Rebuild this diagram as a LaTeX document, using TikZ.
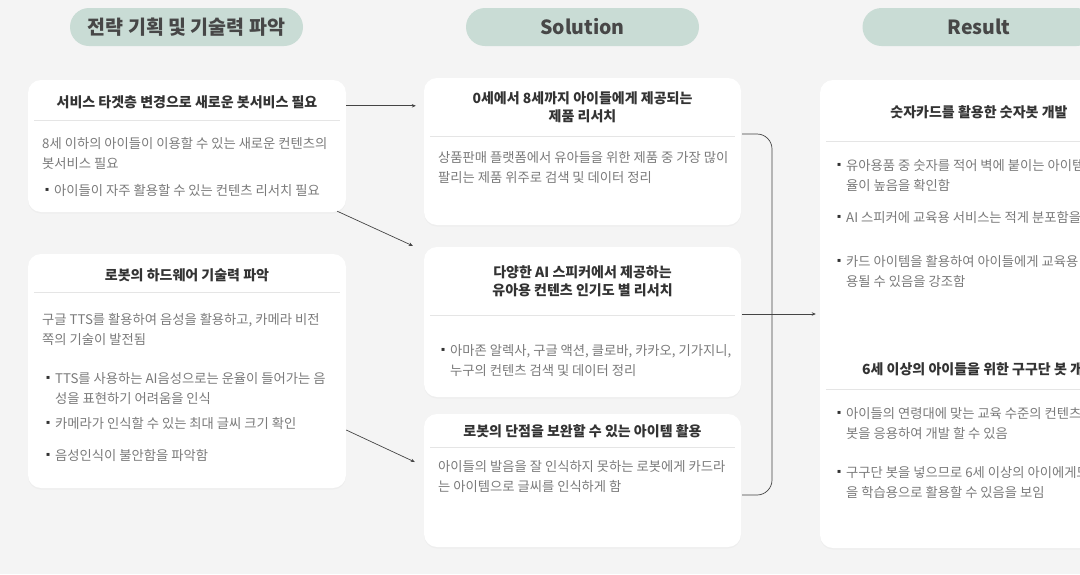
\documentclass[tikz,border=0pt]{standalone}
\usepackage{fontspec}
\setmainfont{Noto Sans CJK KR}
\newfontfamily\bulletfont{DejaVu Sans}
\usetikzlibrary{arrows.meta, shadows}

\definecolor{pagebg}{HTML}{F4F4F4}
\definecolor{pillgreen}{HTML}{C9DCD5}
\definecolor{headgray}{HTML}{474747}
\definecolor{titlegray}{HTML}{333333}
\definecolor{bodygray}{HTML}{7A7A7A}
\definecolor{rulegray}{HTML}{E5E5E5}
\definecolor{linkgray}{HTML}{444444}

\newcommand{\bodylines}[1]{\begin{tabular}[t]{@{}l@{}}#1\end{tabular}}
\newcommand{\titlelines}[1]{\begin{tabular}[t]{@{}c@{}}#1\end{tabular}}
\newcommand{\bulletlines}[1]{\makebox[9pt][l]{\raisebox{4pt}{\textcolor{titlegray}{\bulletfont\fontsize{6}{6}\selectfont ▪}}}\bodylines{#1}}

\begin{document}
\begin{tikzpicture}[x=1pt, y=-1pt,
    pill/.style={fill=pillgreen, rounded corners=19pt, minimum width=233pt, minimum height=38pt, inner sep=0pt, text=headgray, font=\fontsize{19.5}{21}\selectfont\bfseries},
    card/.style={fill=white, rounded corners=13pt, inner sep=0pt, drop shadow={shadow xshift=0pt, shadow yshift=-1.5pt, opacity=0.05}},
    head/.style={anchor=base, inner sep=0pt, text=titlegray, font=\fontsize{14}{18.5}\selectfont\bfseries},
    body/.style={anchor=base west, inner sep=0pt, text=bodygray, font=\fontsize{13.3}{19.5}\selectfont},
    divider/.style={draw=rulegray, line width=0.8pt},
    link/.style={draw=linkgray, line width=0.7pt},
    linkarrow/.style={link, -{Stealth[length=4pt, width=3.5pt]}}]

    \useasboundingbox (0,0) rectangle (1080,574);
    \clip (0,0) rectangle (1080,574);
    \fill[pagebg] (0,0) rectangle (1080,574);

    %headers
    \node[pill] (hplan) at (186.5,27) {전략 기획 및 기술력 파악};
    \node[pill] (hsol) at (582.5,27) {Solution};
    \node[pill] (hres) at (979,27) {Result};

    %left cards
    \node[card, minimum width=318pt, minimum height=132pt] (svc) at (187,146) {};
    \node[card, minimum width=318pt, minimum height=234pt] (hw) at (187,371) {};

    \node[head] (svct) at (187,107) {서비스 타겟층 변경으로 새로운 봇서비스 필요};
    \draw[divider] (34,120) -- (340,120);
    \node[body] (svc1) at (42,148.5) {\bodylines{8세 이하의 아이들이 이용할 수 있는 새로운 컨텐츠의\\봇서비스 필요}};
    \node[body] (svc2) at (45,195.5) {\bulletlines{아이들이 자주 활용할 수 있는 컨텐츠 리서치 필요}};

    \node[head] (hwt) at (187,280) {로봇의 하드웨어 기술력 파악};
    \draw[divider] (34,292) -- (340,292);
    \node[body] (hw1) at (42,324.5) {\bodylines{구글 TTS를 활용하여 음성을 활용하고, 카메라 비전\\쪽의 기술이 발전됨}};
    \node[body] (hw2) at (46,383.5) {\bulletlines{TTS를 사용하는 AI음성으로는 운율이 들어가는 음\\성을 표현하기 어려움을 인식}};
    \node[body] (hw3) at (46,428.5) {\bulletlines{카메라가 인식할 수 있는 최대 글씨 크기 확인}};
    \node[body] (hw4) at (46,460.5) {\bulletlines{음성인식이 불안함을 파악함}};

    %middle cards
    \node[card, minimum width=317pt, minimum height=147pt] (prod) at (582.5,151.5) {};
    \node[card, minimum width=317pt, minimum height=150pt] (spk) at (582.5,322) {};
    \node[card, minimum width=317pt, minimum height=133pt] (item) at (582.5,480.5) {};

    \node[head] (prodt) at (582.5,103) {\titlelines{0세에서 8세까지 아이들에게 제공되는\\제품 리서치}};
    \draw[divider] (430,136) -- (735,136);
    \node[body] (prod1) at (438,162.5) {\bodylines{상품판매 플랫폼에서 유아들을 위한 제품 중 가장 많이\\팔리는 제품 위주로 검색 및 데이터 정리}};

    \node[head] (spkt) at (582.5,277) {\titlelines{다양한 AI 스피커에서 제공하는\\유아용 컨텐츠 인기도 별 리서치}};
    \draw[divider] (430,315) -- (735,315);
    \node[body] (spk1) at (441,355.5) {\bulletlines{아마존 알렉사, 구글 액션, 클로바, 카카오, 기가지니,\\누구의 컨텐츠 검색 및 데이터 정리}};

    \node[head] (itemt) at (582.5,436) {로봇의 단점을 보완할 수 있는 아이템 활용};
    \draw[divider] (430,447) -- (735,447);
    \node[body] (item1) at (438,471.5) {\bodylines{아이들의 발음을 잘 인식하지 못하는 로봇에게 카드라\\는 아이템으로 글씨를 인식하게 함}};

    %right card
    \node[card, minimum width=318pt, minimum height=468pt] (res) at (979,314) {};

    \node[head] (rest1) at (979,117) {숫자카드를 활용한 숫자봇 개발};
    \draw[divider] (826,141) -- (1132,141);
    \node[body] (res1) at (837,170.5) {\bulletlines{유아용품 중 숫자를 적어 벽에 붙이는 아이템\\율이 높음을 확인함}};
    \node[body] (res2) at (837,222.5) {\bulletlines{AI 스피커에 교육용 서비스는 적게 분포함을}};
    \node[body] (res3) at (837,266.5) {\bulletlines{카드 아이템을 활용하여 아이들에게 교육용\\용될 수 있음을 강조함}};

    \node[head] (rest2) at (979,374) {6세 이상의 아이들을 위한 구구단 봇 개발};
    \draw[divider] (826,389) -- (1132,389);
    \node[body] (res4) at (837,418.5) {\bulletlines{아이들의 연령대에 맞는 교육 수준의 컨텐츠\\봇을 응용하여 개발 할 수 있음}};
    \node[body] (res5) at (837,477.5) {\bulletlines{구구단 봇을 넣으므로 6세 이상의 아이에게도\\을 학습용으로 활용할 수 있음을 보임}};

    %links
    \coordinate (hub) at (772,314);
    \draw[linkarrow] ([yshift=-26pt]svc.north east) -- ([xshift=-8pt,yshift=-28pt]prod.north west);
    \draw[linkarrow] ([xshift=-9pt,yshift=1pt]svc.south east) -- ([xshift=-11pt,yshift=1pt]spk.north west);
    \draw[linkarrow] ([yshift=-59pt]hw.east) -- ([xshift=-9pt,yshift=18.5pt]item.west);
    \draw[link, rounded corners=15pt] ([xshift=1pt,yshift=17.5pt]prod.east) -| (hub) |- ([xshift=1pt,yshift=-14.5pt]item.east);
    \draw[linkarrow] ([xshift=1pt,yshift=8pt]spk.east) -- ([xshift=-4pt]res.west);

\end{tikzpicture}
\end{document}
